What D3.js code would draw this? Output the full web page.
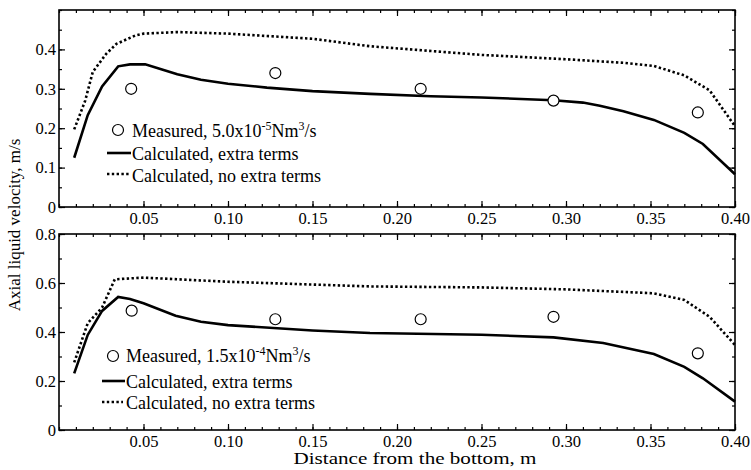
<!DOCTYPE html>
<html><head><meta charset="utf-8">
<script src="https://cdn.jsdelivr.net/npm/d3@7"></script>
<style>
body{margin:0;background:#fff;}
</style></head>
<body><svg id="c" width="751" height="470"></svg>
<script>
const xTickValues = [0.05,0.10,0.15,0.20,0.25,0.30,0.35,0.40];
const xTickLabels = ["0.05","0.10","0.15","0.20","0.25","0.30","0.35","0.40"];
const topYTicks = [0,0.1,0.2,0.3,0.4];
const topYLabels = ["0","0.1","0.2","0.3","0.4"];
const botYTicks = [0,0.2,0.4,0.6,0.8];
const botYLabels = ["0","0.2","0.4","0.6","0.8"];

const topExtra = [[0.009,0.125],[0.017,0.233],[0.0255,0.306],[0.035,0.357],[0.042,0.362],[0.051,0.362],[0.06,0.35],[0.07,0.337],[0.084,0.323],[0.10,0.313],[0.123,0.303],[0.15,0.294],[0.184,0.287],[0.22,0.281],[0.25,0.278],[0.2926,0.271],[0.31,0.265],[0.32,0.257],[0.334,0.243],[0.352,0.221],[0.37,0.188],[0.381,0.160],[0.40,0.083]];
const topNoExtra = [[0.009,0.197],[0.0155,0.27],[0.02,0.343],[0.028,0.389],[0.034,0.414],[0.045,0.435],[0.05,0.44],[0.07,0.444],[0.10,0.44],[0.15,0.427],[0.184,0.408],[0.25,0.386],[0.30,0.375],[0.334,0.366],[0.352,0.358],[0.37,0.334],[0.385,0.296],[0.40,0.205]];
const topMeasured = [[0.0427,0.30],[0.128,0.34],[0.214,0.30],[0.2926,0.27],[0.378,0.24]];

const botExtra = [[0.009,0.231],[0.017,0.388],[0.0255,0.486],[0.035,0.543],[0.042,0.535],[0.05,0.517],[0.069,0.466],[0.084,0.442],[0.10,0.428],[0.15,0.406],[0.184,0.396],[0.25,0.389],[0.2926,0.378],[0.322,0.355],[0.352,0.31],[0.37,0.258],[0.381,0.211],[0.40,0.116]];
const botNoExtra = [[0.009,0.276],[0.017,0.436],[0.0255,0.50],[0.033,0.615],[0.05,0.622],[0.10,0.605],[0.184,0.586],[0.25,0.582],[0.30,0.574],[0.352,0.558],[0.37,0.531],[0.385,0.462],[0.40,0.347]];
const botMeasured = [[0.043,0.487],[0.128,0.452],[0.214,0.452],[0.2926,0.462],[0.378,0.313]];

const FONT = "'Liberation Serif','Times New Roman',Times,serif";
const svg = d3.select("#c");
const L = 59, R = 735;
const x = d3.scaleLinear().domain([0,0.4]).range([L,R]);

function panel(cfg){
  const y = d3.scaleLinear().domain([0,cfg.ymax]).range([cfg.bottom,cfg.top]);
  const g = svg.append("g");
  const line = d3.line().x(d=>x(d[0])).y(d=>y(d[1]));
  g.append("path").attr("d",line(cfg.noExtra)).attr("fill","none").attr("stroke","#000")
    .attr("stroke-width",2.6).attr("stroke-dasharray","2.4,2.4");
  g.append("path").attr("d",line(cfg.extra)).attr("fill","none").attr("stroke","#000")
    .attr("stroke-width",2.6);
  g.selectAll("circle.m").data(cfg.measured).enter().append("circle")
    .attr("cx",d=>x(d[0])).attr("cy",d=>y(d[1])).attr("r",5.5)
    .attr("fill","#fff").attr("stroke","#000").attr("stroke-width",1.2);
  const xMinor = d3.range(0,0.4001,0.01);
  const yMinor = d3.range(0,cfg.ymax+1e-6,cfg.yminor);
  const axB = d3.axisBottom(x).tickValues(xMinor).tickSizeInner(-3).tickSizeOuter(0).tickFormat("");
  const axBM = d3.axisBottom(x).tickValues(xTickValues).tickSizeInner(-6).tickSizeOuter(0)
    .tickFormat((d,i)=>xTickLabels[i]).tickPadding(5);
  const axT = d3.axisTop(x).tickValues(xMinor).tickSizeInner(-3).tickSizeOuter(0).tickFormat("");
  const axTM = d3.axisTop(x).tickValues(xTickValues).tickSizeInner(-6).tickSizeOuter(0).tickFormat("");
  const axL = d3.axisLeft(y).tickValues(yMinor).tickSizeInner(-3).tickSizeOuter(0).tickFormat("");
  const axLM = d3.axisLeft(y).tickValues(cfg.yTicks).tickSizeInner(-6).tickSizeOuter(0)
    .tickFormat((d,i)=>cfg.yLabels[i]).tickPadding(3);
  const axR = d3.axisRight(y).tickValues(yMinor).tickSizeInner(-3).tickSizeOuter(0).tickFormat("");
  const axRM = d3.axisRight(y).tickValues(cfg.yTicks).tickSizeInner(-6).tickSizeOuter(0).tickFormat("");
  [[axB,`translate(0,${cfg.bottom})`],[axBM,`translate(0,${cfg.bottom})`],
   [axT,`translate(0,${cfg.top})`],[axTM,`translate(0,${cfg.top})`],
   [axL,`translate(${L},0)`],[axLM,`translate(${L},0)`],
   [axR,`translate(${R},0)`],[axRM,`translate(${R},0)`]].forEach(([a,t])=>{
    const ga = g.append("g").attr("transform",t).call(a);
    ga.select(".domain").remove();
    ga.selectAll("line").attr("stroke","#000").attr("stroke-width",1.2);
    ga.selectAll("text").style("font-size","16.5px");
  });
  g.append("rect").attr("x",L).attr("y",cfg.top).attr("width",R-L).attr("height",cfg.bottom-cfg.top)
    .attr("fill","none").attr("stroke","#000").attr("stroke-width",1.6);
  // legend
  const lg = g.append("g");
  const p = cfg.leg;
  lg.append("circle").attr("cx",p.cx).attr("cy",p.cy).attr("r",5.5).attr("fill","#fff")
    .attr("stroke","#000").attr("stroke-width",1.2);
  const t1 = lg.append("text").attr("x",p.tx).attr("y",p.b1).style("font-size","18px");
  t1.append("tspan").text(cfg.measLabel[0]);
  t1.append("tspan").attr("dy",-7).style("font-size","12px").text(cfg.measLabel[1]);
  t1.append("tspan").attr("dy",7).text("Nm");
  t1.append("tspan").attr("dy",-7).style("font-size","12px").text("3");
  t1.append("tspan").attr("dy",7).text("/s");
  lg.append("line").attr("x1",p.lx1).attr("x2",p.lx2).attr("y1",p.ly2).attr("y2",p.ly2)
    .attr("stroke","#000").attr("stroke-width",2.6);
  lg.append("text").attr("x",p.tx).attr("y",p.b2).style("font-size","18px").text("Calculated, extra terms");
  lg.append("line").attr("x1",p.lx1).attr("x2",p.lx2-2).attr("y1",p.ly3).attr("y2",p.ly3)
    .attr("stroke","#000").attr("stroke-width",2.6).attr("stroke-dasharray","2.4,2.4");
  lg.append("text").attr("x",p.tx).attr("y",p.b3).style("font-size","18px").text("Calculated, no extra terms");
}

panel({top:10,bottom:207,ymax:0.5,yminor:0.05,yTicks:topYTicks,yLabels:topYLabels,
  extra:topExtra,noExtra:topNoExtra,measured:topMeasured,
  leg:{cx:118,cy:130,tx:132,b1:137,lx1:107,lx2:131,ly2:153,b2:160,ly3:174,b3:182},
  measLabel:["Measured, 5.0x10","-5"]});
panel({top:234,bottom:430,ymax:0.8,yminor:0.1,yTicks:botYTicks,yLabels:botYLabels,
  extra:botExtra,noExtra:botNoExtra,measured:botMeasured,
  leg:{cx:113,cy:356,tx:126,b1:362,lx1:102,lx2:125,ly2:381,b2:388,ly3:402,b3:409},
  measLabel:["Measured, 1.5x10","-4"]});

svg.append("text").attr("x",415).attr("y",464).attr("text-anchor","middle")
  .style("font-size","17px").attr("textLength",243).attr("lengthAdjust","spacingAndGlyphs")
  .text("Distance from the bottom, m");
svg.append("text").attr("transform","translate(20,225) rotate(-90)").attr("text-anchor","middle")
  .style("font-size","17px").text("Axial liquid velocity, m/s");

svg.selectAll("text").style("font-family",FONT).style("fill","#000");
</script></body></html>
